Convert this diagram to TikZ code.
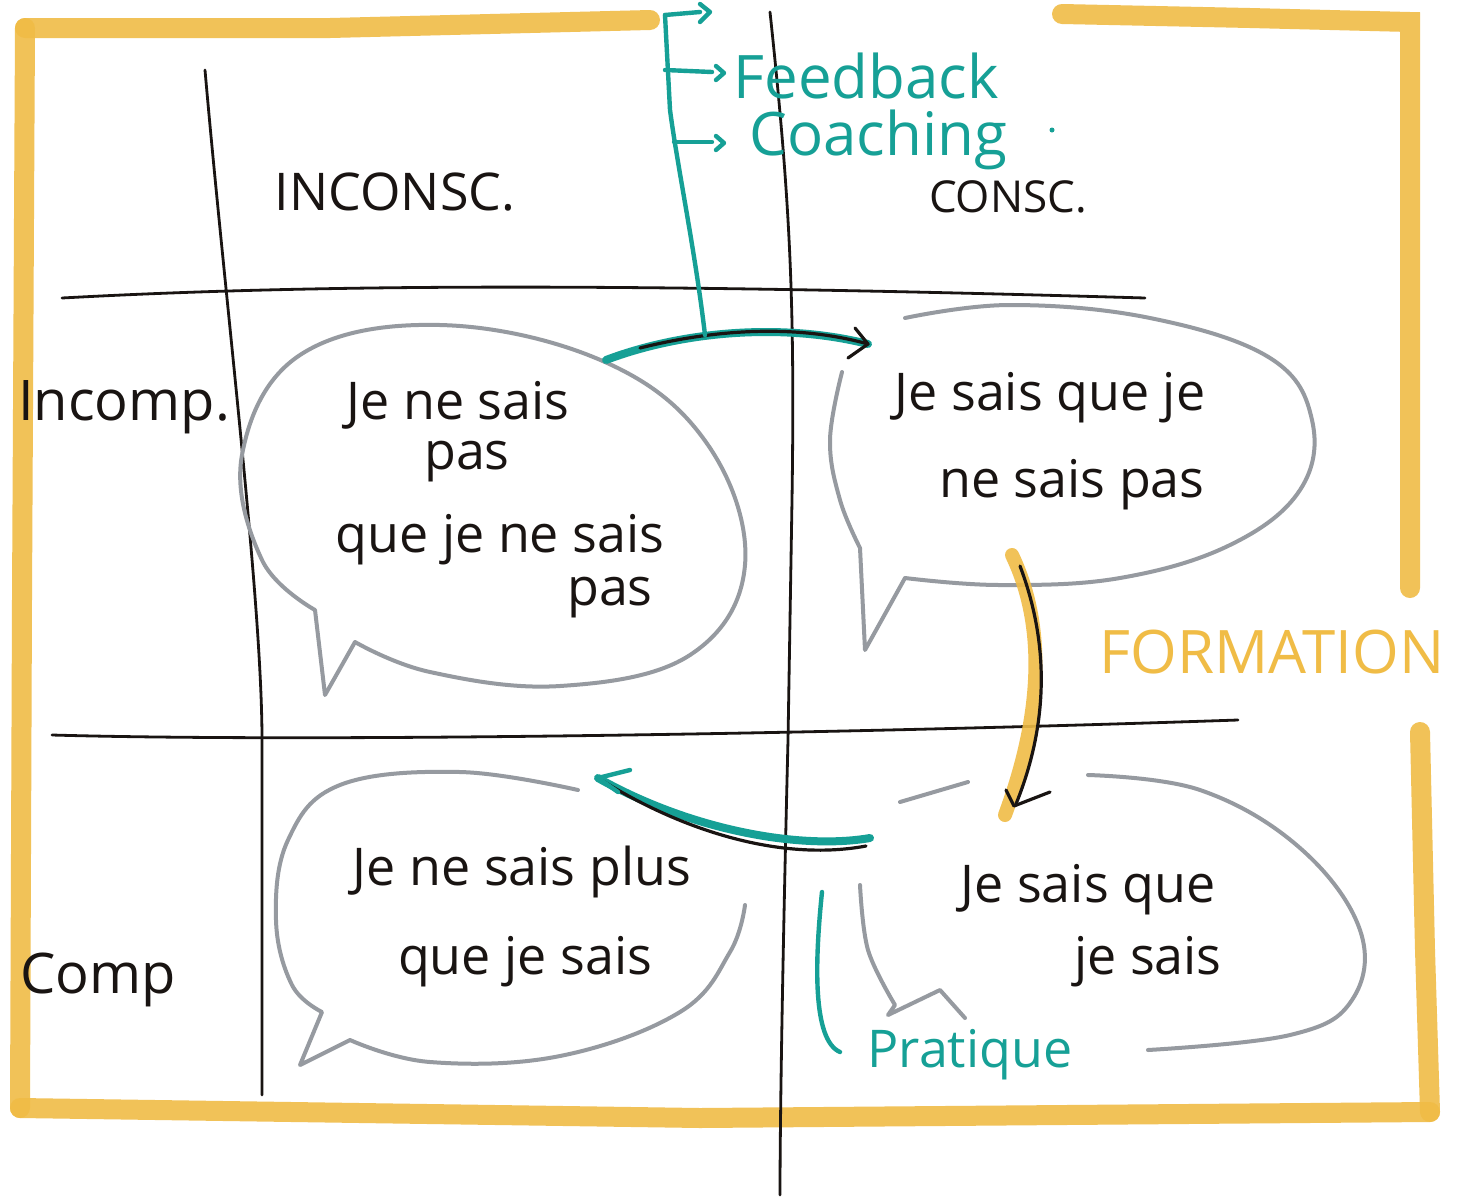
\documentclass[tikz,border=0pt]{standalone}
\usepackage{fontspec}
\setmainfont{Open Sans}
\usetikzlibrary{calc}
\definecolor{marker}{RGB}{240,188,70}
\definecolor{tealink}{RGB}{22,160,150}
\definecolor{bubblegray}{RGB}{150,154,160}
\definecolor{inkblack}{RGB}{25,20,18}
\tikzset{
  frameline/.style={draw=marker, line width=10pt, line cap=round, opacity=0.9},
  gridline/.style={draw=inkblack, line width=1.4pt, line cap=round},
  bubble/.style={draw=bubblegray, line width=2pt, line cap=round, line join=round},
  tealline/.style={draw=tealink, line width=2.2pt, line cap=round, line join=round},
  tealthick/.style={draw=tealink, line width=4pt, line cap=round},
  inkarrow/.style={draw=inkblack, line width=1.6pt, line cap=round, line join=round},
  handtext/.style={text=inkblack, font=\fontsize{26}{30}\selectfont, inner sep=0pt},
  headtext/.style={text=inkblack, font=\fontsize{26}{30}\selectfont, inner sep=0pt},
  tealtext/.style={text=tealink, font=\fontsize{30}{34}\selectfont, inner sep=0pt},
}
\begin{document}
\begin{tikzpicture}[x=0.5pt,y=-0.5pt]
\useasboundingbox (0,0) rectangle (1462,1200);
\fill[white] (0,0) rectangle (1462,1200);

% ---- orange frame ----
\draw[frameline] (650,20) -- (330,28) -- (25,28);
\draw[frameline] (25,28) -- (22,600) -- (20,1108);
\draw[frameline] (1062,14) -- (1250,18) -- (1410,22) -- (1410,330) -- (1410,588);
\draw[frameline] (1420,732) -- (1425,950) -- (1430,1112);
\draw[frameline] (20,1108) -- (700,1118) -- (1430,1112);

% ---- grid lines ----
\draw[gridline] (205,70) .. controls (225,300) and (262,600) .. (262,740) -- (262,1095);
\draw[gridline] (770,12) .. controls (790,200) and (795,300) .. (792,500) -- (788,740) .. controls (784,900) and (780,1100) .. (780,1195);
\draw[gridline] (62,298) .. controls (300,285) and (600,282) .. (1145,298);
\draw[gridline] (52,735) .. controls (300,742) and (800,735) .. (1238,720);

% ---- headings ----
\node[headtext] (inconsc) at (395,192) {INCONSC.};
\node[headtext, font=\fontsize{22}{26}\selectfont] (consc) at (1008,197) {CONSC.};
\node[headtext, font=\fontsize{28}{32}\selectfont] (incomp) at (124,407) {Incomp.};
\node[headtext, font=\fontsize{28}{32}\selectfont] (comp) at (98,980) {Comp};

% ---- bubble 1 ----
\draw[bubble] plot[smooth, tension=0.65] coordinates {(355,642) (430,672) (560,686) (690,655) (745,565) (708,445) (605,362) (440,325) (300,355) (242,455) (262,560) (315,610)} -- (325,695) -- (355,642);
\node[handtext] (b1a) at (458,405) {Je ne sais};
\node[handtext] (b1b) at (467,462) {pas};
\node[handtext] (b1c) at (500,540) {que je ne sais};
\node[handtext] (b1d) at (610,598) {pas};

% ---- bubble 2 ----
\draw[bubble] plot[smooth, tension=0.65] coordinates {(842,372) (830,440) (840,500) (860,548)} -- (865,650) -- (905,578) plot[smooth, tension=0.65] coordinates {(905,578) (1000,585) (1120,578) (1230,545) (1300,490) (1312,420) (1270,358) (1150,318) (1010,305) (905,318)};
\node[handtext] (b2a) at (1050,398) {Je sais que je};
\node[handtext] (b2b) at (1072,485) {ne sais pas};

% ---- bubble 3 ----
\draw[bubble] plot[smooth, tension=0.65] coordinates {(578,790) (460,772) (340,785) (288,840) (276,920) (292,985) (322,1012)} -- (300,1065) -- (350,1040) plot[smooth, tension=0.65] coordinates {(350,1040) (430,1062) (560,1056) (680,1012) (730,952) (745,905)};
\node[handtext] (b3a) at (522,872) {Je ne sais plus};
\node[handtext] (b3b) at (525,962) {que je sais};

% ---- bubble 4 ----
\draw[bubble] (900,802) -- (968,782);
\draw[bubble] plot[smooth, tension=0.65] coordinates {(1088,775) (1200,790) (1300,848) (1360,930) (1352,1000) (1290,1035) (1148,1050)};
\draw[bubble] plot[smooth, tension=0.6] coordinates {(860,885) (868,950) (895,1005)} -- (888,1015) -- (940,990) -- (965,1018);
\node[handtext] (b4a) at (1088,890) {Je sais que};
\node[handtext] (b4b) at (1148,962) {je sais};

% ---- top arrow (bubble 1 -> bubble 2) ----
\coordinate (a1s) at (606,360);
\coordinate (a1e) at (868,344);
\draw[tealthick] (a1s) .. controls (680,332) and (780,322) .. (a1e);
\draw[inkarrow] (640,348) .. controls (720,328) and (800,325) .. (a1e);
\draw[inkarrow] (855,328) -- (a1e) -- (848,358);

% ---- teal bracket: Feedback / Coaching ----
\draw[tealline] (705,335) .. controls (695,250) and (678,170) .. (670,110) -- (665,15);
\draw[tealline] (665,15) -- (700,12);
\draw[tealline] (700,4) -- (710,12) -- (700,22);
\draw[tealline] (665,70) -- (712,72);
\draw[tealline] (716,66) -- (724,73) -- (716,80);
\draw[tealline] (674,142) -- (712,142);
\draw[tealline] (716,136) -- (724,143) -- (716,150);
\node[tealtext] (feedback) at (866,76) {Feedback};
\node[tealtext] (coaching) at (878,140) {Coaching};
\fill[tealink] (1052,130) circle (2.5);

% ---- FORMATION arrow (bubble 2 -> bubble 4) ----
\draw[draw=marker, line width=7pt, line cap=round, opacity=0.9] (1012,555) .. controls (1048,630) and (1040,720) .. (1005,815);
\draw[inkarrow] (1020,566) .. controls (1048,640) and (1050,720) .. (1016,804);
\draw[inkarrow] (1006,790) -- (1014,806) -- (1050,792);
\node[text=marker, font=\fontsize{30}{34}\selectfont, inner sep=0pt] (formation) at (1272,652) {FORMATION};

% ---- bottom arrow (bubble 4 -> bubble 3) ----
\coordinate (a2s) at (870,838);
\coordinate (a2e) at (598,778);
\draw[tealthick] (a2s) .. controls (800,850) and (690,830) .. (a2e);
\draw[inkarrow] (866,846) .. controls (780,862) and (680,830) .. (a2e);
\draw[tealline] (630,770) -- (a2e) -- (618,792);

% ---- Pratique bracket ----
\draw[tealline] (822,892) .. controls (815,960) and (812,1040) .. (840,1052);
\node[tealtext, font=\fontsize{26}{30}\selectfont] (pratique) at (970,1055) {Pratique};
\end{tikzpicture}
\end{document}
